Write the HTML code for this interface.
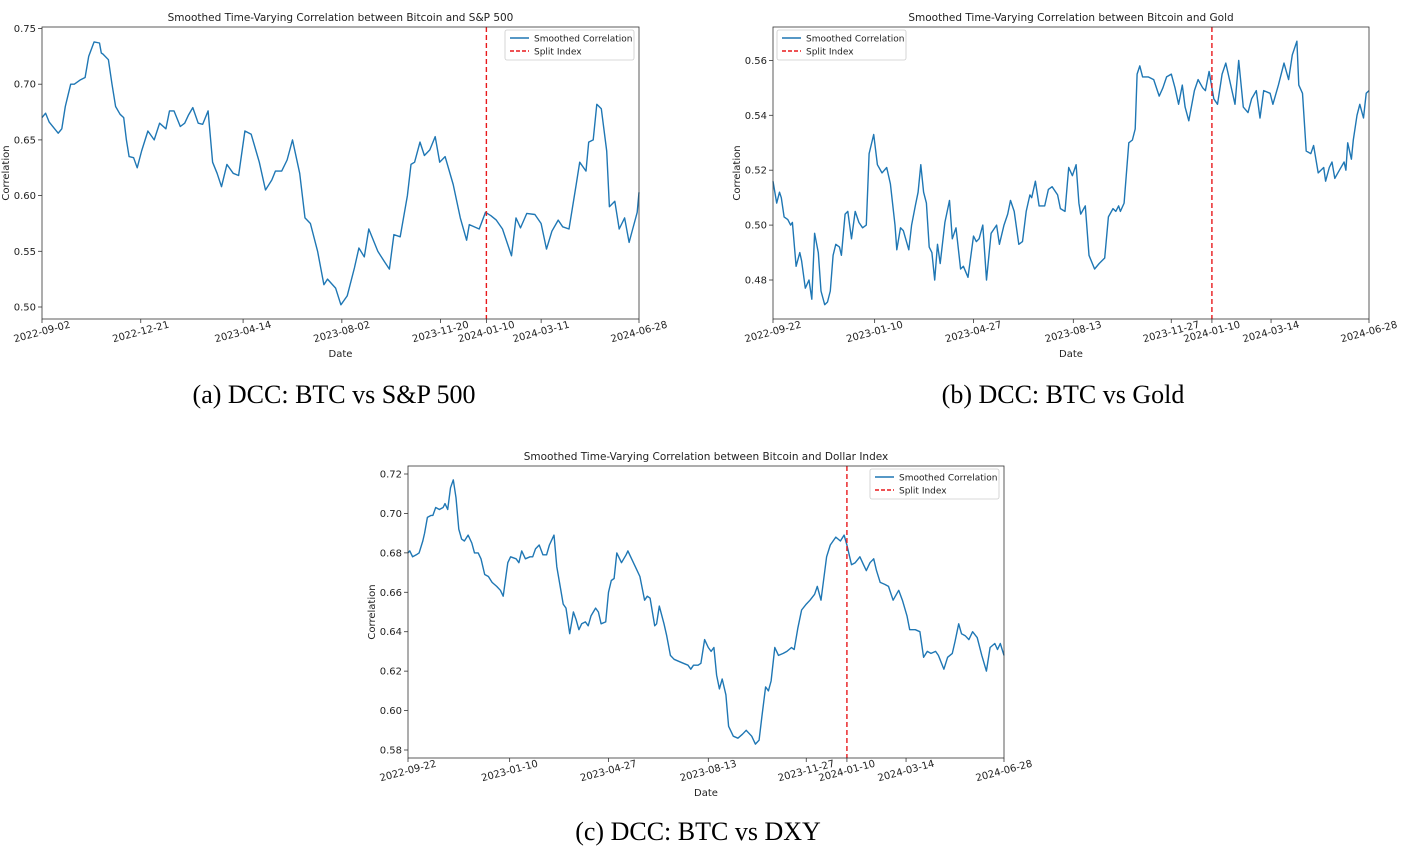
<!DOCTYPE html>
<html><head><meta charset="utf-8"><style>
html,body{margin:0;padding:0;background:#fff;width:1401px;height:849px;overflow:hidden}
svg text{font-family:"DejaVu Sans","Liberation Sans",sans-serif;fill:#222}
.cap{font-family:"Liberation Serif",serif;font-size:26px;fill:#000}
</style></head><body>
<svg id="root" width="1401" height="849" viewBox="0 0 1401 849" xmlns="http://www.w3.org/2000/svg">
<text class="cap" x="334" y="403" text-anchor="middle">(a) DCC: BTC vs S&amp;P 500</text>
<text class="cap" x="1063" y="403" text-anchor="middle">(b) DCC: BTC vs Gold</text>
<text class="cap" x="698" y="840" text-anchor="middle">(c) DCC: BTC vs DXY</text>
</svg>
<script>
// ---- Panel A data (BTC vs S&P 500) ----
const daysA=[0,4,8,18,20,22,26,29,32,36,43,48,52,58,64,66,68,74,78,82,87,91,94,97,102,106,111,118,125,131,138,142,147,154,159,163,168,174,179,185,190,195,200,206,213,219,226,233,242,249,256,260,267,273,279,287,293,299,307,314,318,327,333,340,348,353,359,364,374,382,387,392,399,407,411,415,421,426,432,438,443,449,458,466,473,476,487,494,500,506,513,523,528,533,540,549,556,562,568,575,580,587,595,599,606,609,614,618,623,629,632,638,643,649,654,658,663,665];
const valsA=[0.670,0.674,0.666,0.656,0.658,0.660,0.680,0.690,0.700,0.700,0.704,0.706,0.725,0.738,0.737,0.728,0.727,0.722,0.700,0.680,0.673,0.670,0.650,0.635,0.634,0.625,0.640,0.658,0.650,0.665,0.660,0.676,0.676,0.662,0.665,0.672,0.679,0.665,0.664,0.676,0.630,0.620,0.608,0.628,0.620,0.618,0.658,0.655,0.630,0.605,0.614,0.622,0.622,0.632,0.650,0.620,0.580,0.575,0.550,0.520,0.525,0.517,0.502,0.510,0.535,0.553,0.545,0.570,0.550,0.540,0.534,0.565,0.563,0.600,0.628,0.630,0.648,0.636,0.641,0.653,0.630,0.635,0.610,0.580,0.560,0.574,0.570,0.585,0.582,0.578,0.570,0.546,0.580,0.571,0.584,0.583,0.575,0.552,0.568,0.578,0.572,0.570,0.610,0.630,0.622,0.648,0.650,0.682,0.678,0.640,0.590,0.595,0.570,0.580,0.558,0.570,0.585,0.603,0.593];
const ticksXA=["2022-09-02","2022-12-21","2023-04-14","2023-08-02","2023-11-20","2024-01-10","2024-03-11","2024-06-28"];
const ticksYA=[0.50,0.55,0.60,0.65,0.70,0.75];
// ---- Panel B data (BTC vs Gold) ----
const daysB=[0,4,7,9,12,16,19,21,25,29,31,35,39,42,45,49,52,56,59,62,65,68,72,74,78,81,85,89,93,97,101,104,109,113,118,123,127,132,134,138,141,147,150,154,157,160,163,166,169,172,175,178,181,186,191,194,198,203,206,211,217,220,223,227,231,236,242,245,250,254,257,261,266,270,274,278,280,284,288,294,298,302,308,311,316,320,324,328,331,333,338,342,348,353,359,363,368,371,374,376,380,385,389,392,394,397,400,406,412,418,422,426,431,435,439,443,446,450,456,460,465,468,472,477,481,486,490,494,500,504,509,514,518,523,527,531,538,541,547,553,558,562,567,569,573,577,582,585,590,596,598,602,605,608,613,618,620,622,626,628,632,635,639,642,645];
const valsB=[0.516,0.508,0.512,0.510,0.503,0.502,0.500,0.501,0.485,0.490,0.487,0.477,0.480,0.473,0.497,0.490,0.476,0.471,0.472,0.476,0.489,0.493,0.492,0.489,0.504,0.505,0.495,0.505,0.501,0.499,0.500,0.526,0.533,0.522,0.519,0.521,0.515,0.500,0.491,0.499,0.498,0.491,0.500,0.507,0.512,0.522,0.512,0.508,0.492,0.490,0.480,0.493,0.486,0.501,0.509,0.495,0.499,0.484,0.485,0.481,0.496,0.494,0.495,0.500,0.480,0.497,0.500,0.493,0.500,0.504,0.509,0.505,0.493,0.494,0.505,0.511,0.510,0.516,0.507,0.507,0.513,0.514,0.511,0.506,0.505,0.521,0.518,0.522,0.508,0.504,0.507,0.489,0.484,0.486,0.488,0.503,0.506,0.505,0.507,0.505,0.508,0.530,0.531,0.535,0.555,0.558,0.554,0.554,0.553,0.547,0.550,0.554,0.555,0.550,0.544,0.551,0.543,0.538,0.549,0.553,0.550,0.549,0.556,0.546,0.544,0.555,0.559,0.553,0.544,0.560,0.543,0.541,0.546,0.549,0.539,0.549,0.548,0.544,0.551,0.559,0.553,0.562,0.567,0.551,0.548,0.527,0.526,0.529,0.519,0.521,0.516,0.521,0.523,0.517,0.520,0.523,0.520,0.530,0.524,0.531,0.540,0.544,0.539,0.548,0.549];
const ticksXB=["2022-09-22","2023-01-10","2023-04-27","2023-08-13","2023-11-27","2024-01-10","2024-03-14","2024-06-28"];
const ticksYB=[0.48,0.50,0.52,0.54,0.56];
// ---- Panel C data (BTC vs Dollar Index) ----
const daysC=[0,2,5,9,12,16,18,21,25,27,30,34,38,40,43,46,49,52,55,58,61,65,69,72,76,79,83,87,91,96,100,103,108,111,117,120,123,127,132,135,138,142,146,150,153,158,161,165,168,171,175,179,182,185,188,192,195,198,203,206,209,214,217,220,223,226,231,236,238,242,247,251,256,259,262,267,269,272,277,280,284,288,293,298,303,306,309,314,317,321,325,328,331,334,337,340,344,347,352,357,362,366,372,376,380,383,387,390,393,397,401,406,410,415,418,422,426,431,435,440,443,447,453,457,463,468,472,475,480,484,489,493,496,500,504,507,511,516,520,525,531,535,540,543,549,554,558,562,566,571,574,580,584,589,592,596,599,603,607,611,616,621,626,630,635,638,641,645];
const valsC=[0.680,0.681,0.678,0.679,0.680,0.686,0.690,0.698,0.699,0.699,0.703,0.702,0.703,0.705,0.702,0.713,0.717,0.708,0.692,0.687,0.686,0.689,0.685,0.680,0.680,0.677,0.669,0.668,0.665,0.663,0.661,0.658,0.675,0.678,0.677,0.675,0.681,0.677,0.678,0.678,0.682,0.684,0.679,0.679,0.684,0.689,0.673,0.662,0.654,0.652,0.639,0.650,0.646,0.641,0.644,0.645,0.643,0.648,0.652,0.650,0.644,0.645,0.660,0.666,0.667,0.680,0.675,0.679,0.681,0.677,0.672,0.668,0.656,0.658,0.657,0.643,0.644,0.653,0.644,0.638,0.628,0.626,0.625,0.624,0.623,0.621,0.623,0.623,0.624,0.636,0.632,0.630,0.632,0.618,0.611,0.616,0.608,0.592,0.587,0.586,0.588,0.590,0.587,0.583,0.585,0.597,0.612,0.610,0.615,0.632,0.628,0.629,0.630,0.632,0.631,0.642,0.651,0.654,0.656,0.659,0.663,0.656,0.678,0.684,0.688,0.686,0.689,0.684,0.674,0.675,0.678,0.674,0.671,0.675,0.677,0.671,0.665,0.664,0.663,0.656,0.661,0.656,0.648,0.641,0.641,0.640,0.627,0.630,0.629,0.630,0.628,0.621,0.627,0.629,0.635,0.644,0.639,0.638,0.636,0.640,0.637,0.628,0.620,0.632,0.634,0.631,0.634,0.628];
const ticksXC=["2022-09-22","2023-01-10","2023-04-27","2023-08-13","2023-11-27","2024-01-10","2024-03-14","2024-06-28"];
const ticksYC=[0.58,0.60,0.62,0.64,0.66,0.68,0.70,0.72];
const splitDate="2024-01-10";

const NS="http://www.w3.org/2000/svg";
const root=document.getElementById('root');
function mk(tag,attrs,parent){const e=document.createElementNS(NS,tag);for(const k in attrs)e.setAttribute(k,attrs[k]);(parent||root).appendChild(e);return e;}
function dayNum(s){return Date.UTC(+s.slice(0,4),+s.slice(5,7)-1,+s.slice(8,10))/86400000;}

function panel(p){
  const g=mk('g',{});
  
  
  const start=dayNum(p.xt[0]), end=dayNum(p.xt[p.xt.length-1]);
  const X=d=>p.L+(d)/(end-start)*(p.R-p.L);
  const Y=v=>p.y0+(v-p.v0)/(p.v1-p.v0)*(p.y1-p.y0);
  const t=mk('text',{x:(p.L+p.R)/2,y:p.T-6,'text-anchor':'middle','font-size':'10.5'},g);
  t.textContent=p.title;
  
  
  p.yt.forEach(v=>{
    const y=Y(v);
    mk('line',{x1:p.L-4,x2:p.L,y1:y,y2:y,stroke:'#333','stroke-width':0.8},g);
    const tx=mk('text',{x:p.L-6,y:y+3.5,'text-anchor':'end','font-size':'10'},g);
    tx.textContent=v.toFixed(2);
    
    
  });
  p.xt.forEach(s=>{
    const x=X(dayNum(s)-start);
    mk('line',{x1:x,x2:x,y1:p.B,y2:p.B+4,stroke:'#333','stroke-width':0.8},g);
    const tx=mk('text',{x:x,y:p.B+16,'text-anchor':'middle','font-size':'10',transform:`rotate(-15 ${x} ${p.B+13})`},g);
    tx.textContent=s;
    
    
  });
  const xl=mk('text',{x:(p.L+p.R)/2,y:p.B+38,'text-anchor':'middle','font-size':'10'},g);
  xl.textContent='Date';
  
  
  const yc=(p.T+p.B)/2;
  const yl=mk('text',{x:p.L-33,y:yc,'text-anchor':'middle','font-size':'10',transform:`rotate(-90 ${p.L-33} ${yc})`},g);
  yl.textContent='Correlation';
  
  
  let d='';
  p.days.forEach((dd,i)=>{d+=(i?'L':'M')+X(dd).toFixed(1)+','+Y(p.vals[i]).toFixed(1);});
  const line=mk('path',{d:d,fill:'none',stroke:'#1f77b4','stroke-width':1.4,'stroke-linejoin':'round'},g);
  
  
  const sx=X(dayNum(splitDate)-start);
  const sl=mk('line',{x1:sx,x2:sx,y1:p.T,y2:p.B,stroke:'#e8191c','stroke-width':1.4,'stroke-dasharray':'5,3'},g);
  
  
  const fr=mk('rect',{x:p.L,y:p.T,width:p.R-p.L,height:p.B-p.T,fill:'none',stroke:'#333','stroke-width':0.8},g);
  
  
  const lg=mk('g',{},g);
  
  
  mk('rect',{x:p.lx,y:p.ly,width:129,height:30,rx:2,fill:'#fff',stroke:'#ccc','stroke-width':0.8},lg);
  mk('line',{x1:p.lx+5,x2:p.lx+24,y1:p.ly+8,y2:p.ly+8,stroke:'#1f77b4','stroke-width':1.4},lg);
  mk('line',{x1:p.lx+5,x2:p.lx+24,y1:p.ly+21,y2:p.ly+21,stroke:'#e8191c','stroke-width':1.4,'stroke-dasharray':'4,2'},lg);
  const l1=mk('text',{x:p.lx+29,y:p.ly+11.5,'font-size':'9'},lg);l1.textContent='Smoothed Correlation';
  
  
  const l2=mk('text',{x:p.lx+29,y:p.ly+24.5,'font-size':'9'},lg);l2.textContent='Split Index';
  
  
}
panel({name:'chart-btc-sp500',title:'Smoothed Time-Varying Correlation between Bitcoin and S&P 500',L:42,R:639,T:27,B:319,v0:0.5,v1:0.75,y0:307,y1:28.5,days:daysA,vals:valsA,xt:ticksXA,yt:ticksYA,lx:505,ly:30});
panel({name:'chart-btc-gold',title:'Smoothed Time-Varying Correlation between Bitcoin and Gold',L:773,R:1369,T:27,B:319,v0:0.48,v1:0.56,y0:280,y1:60.4,days:daysB,vals:valsB,xt:ticksXB,yt:ticksYB,lx:777,ly:30});
panel({name:'chart-btc-dxy',title:'Smoothed Time-Varying Correlation between Bitcoin and Dollar Index',L:408,R:1004,T:466,B:758,v0:0.58,v1:0.72,y0:750,y1:474,days:daysC,vals:valsC,xt:ticksXC,yt:ticksYC,lx:870,ly:469});
</script>
</body></html>
